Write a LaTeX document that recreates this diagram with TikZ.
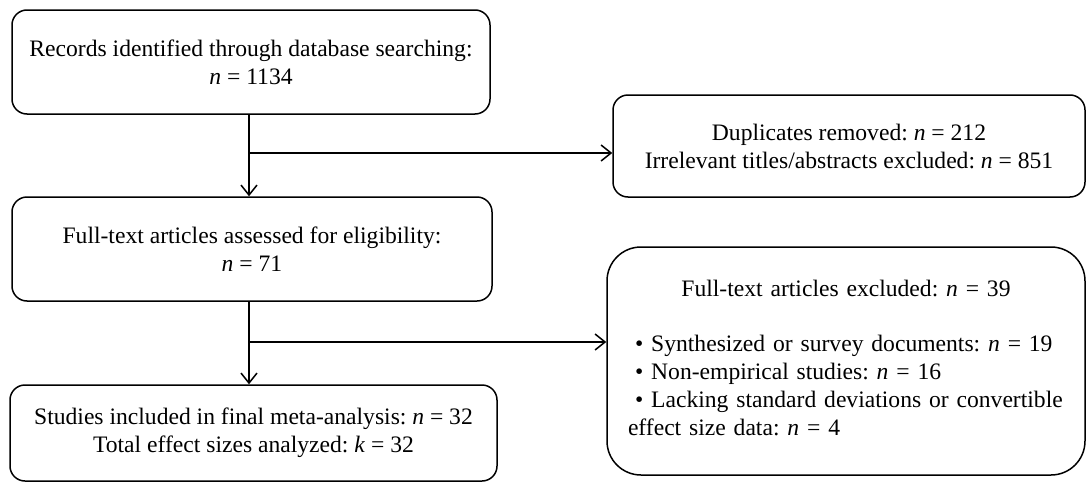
\documentclass[tikz,border=0pt]{standalone}
\usepackage{fontspec}
\setmainfont{Liberation Serif}
\usetikzlibrary{arrows.meta}
\begin{document}
\frenchspacing
\begin{tikzpicture}[x=1pt,y=-1pt,
  box/.style={draw=black, line width=1.5pt, rounded corners=15pt, align=center, inner sep=0pt, font=\fontsize{23.6}{28}\selectfont},
  conn/.style={draw=black, line width=1.5pt},
  arr/.style={conn, -{Straight Barb[length=10pt,width=16pt,line width=1.5pt]}}]
\useasboundingbox (0,0) rectangle (1088,482);
\fill[white] (0,0) rectangle (1088,482);

\node[box, minimum width=478pt, minimum height=104pt] (b1) at (251,62)
  {Records identified through database searching:\\ \textit{n} = 1134};
\node[box, minimum width=472pt, minimum height=102pt] (b2) at (849,146)
  {Duplicates removed: \textit{n} = 212\\ Irrelevant titles/abstracts excluded: \textit{n} = 851};
\node[box, minimum width=480pt, minimum height=104pt] (b3) at (252,249)
  {Full-text articles assessed for eligibility:\\ \textit{n} = 71};
\node[box, rounded corners=34pt, minimum width=478pt, minimum height=228pt, text width=478pt] (b4) at (846,361)
  {Full-text articles excluded: \textit{n} = 39\\[27pt]
   \parbox[t]{478pt}{\raggedright\leftskip=21pt
   \mbox{\hspace*{0.3em}• Synthesized or survey documents: \textit{n} = 19}\\
   \mbox{\hspace*{0.3em}• Non-empirical studies: \textit{n} = 16}\\
   \mbox{\hspace*{0.3em}• Lacking standard deviations or convertible}\\
   \mbox{effect size data: \textit{n} = 4}\par\vspace{7pt}}};
\node[box, minimum width=487pt, minimum height=96pt] (b5) at (253.5,433)
  {Studies included in final meta-analysis: \textit{n} = 32\\ Total effect sizes analyzed: \textit{k} = 32};

\coordinate (j1) at (249,153);
\coordinate (j2) at (249,342);
\draw[conn] (b1.south -| j1) -- (j1);
\draw[arr] (j1) -- (b3.north -| j1);
\draw[arr] (j1) -- (b2.west |- j1);
\draw[conn] (b3.south -| j2) -- (j2);
\draw[arr] (j2) -- (b5.north -| j2);
\draw[arr] (j2) -- (b4.west |- j2);
\end{tikzpicture}
\end{document}
